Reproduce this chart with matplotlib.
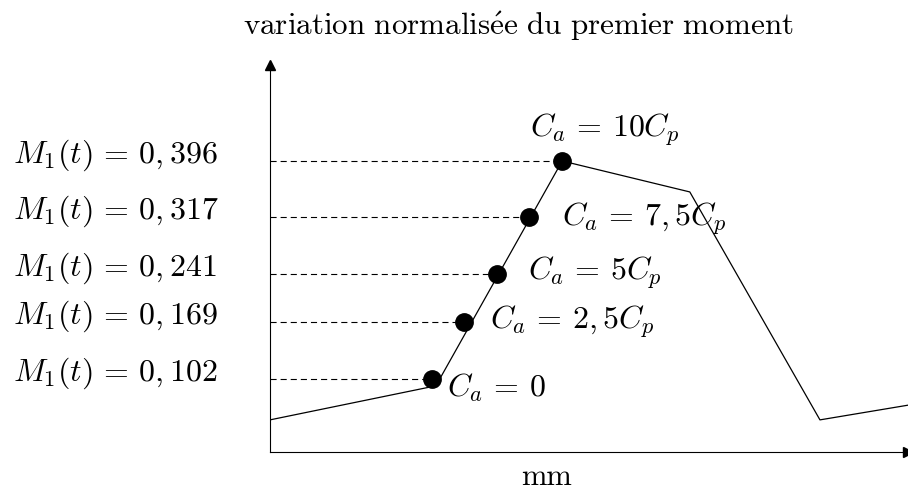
#!/usr/bin/python3
# Initialization
import numpy as np
import matplotlib
matplotlib.use('Agg')
import matplotlib.pyplot as plt
# ------------------------------------------------------------------

plt.rcParams['mathtext.fontset'] = 'cm'
plt.rcParams['font.family'] = ['cmr10', 'DejaVu Serif']
plt.rcParams['axes.formatter.use_mathtext'] = True

# ------------------------------------------------------------------
# Data (schematic units, x axis 0..10, y axis 0..1)
curve_x = [0.0, 2.60, 4.58, 6.58, 8.62, 10.0]
curve_y = [0.083, 0.171, 0.752, 0.672, 0.083, 0.121]

dot_x = [2.54, 3.04, 3.56, 4.06, 4.58]
dot_y = [0.189, 0.335, 0.460, 0.606, 0.752]

m1_values = ['0,102', '0,169', '0,241', '0,317', '0,396']
ca_labels = [r'$C_a\,=\,0$', r'$C_a\,=\,2,5C_p$', r'$C_a\,=\,5C_p$',
             r'$C_a\,=\,7,5C_p$', r'$C_a\,=\,10C_p$']
# text offsets (pixels) of the C_a labels from their dots
ca_offsets = [(15, -9), (26, 0), (31, 1), (33, -1), (-32, 31)]
# ------------------------------------------------------------------

fig = plt.figure(figsize=(9.08, 4.93), dpi=100)
ax = fig.add_axes([270/908, 41/493, 638/908, 387/493])
ax.set_xlim(0, 10)
ax.set_ylim(0, 1)
ax.spines['top'].set_visible(False)
ax.spines['right'].set_visible(False)
ax.set_xticks([])
ax.set_yticks([])

# arrow heads on the axes
ax.plot(0, 1, marker='^', color='k', markersize=7, clip_on=False)
ax.plot(10, 0, marker='>', color='k', markersize=7, clip_on=False)

ax.plot(curve_x, curve_y, 'k-', linewidth=0.9)

for i in range(len(dot_x)):
  ax.plot([0, dot_x[i]], [dot_y[i], dot_y[i]], 'k--', linewidth=0.8,
          dashes=(5.5, 3.6))
  ax.annotate(r'$M_1(t)\,=\,%s$' % m1_values[i], xy=(0, dot_y[i]),
              xytext=(-257, 6), textcoords='offset pixels',
              ha='left', va='center', fontsize=23)
  ax.annotate(ca_labels[i], xy=(dot_x[i], dot_y[i]),
              xytext=ca_offsets[i], textcoords='offset pixels',
              ha='left', va='center', fontsize=23)

ax.plot(dot_x, dot_y, 'ko', markersize=12.5, zorder=5)

fig.text(518/908, 1 - 26/493,
         r'$\mathrm{variation\ normalis\acute{e}e\ du\ premier\ moment}$',
         ha='center', va='center', fontsize=22.4)
fig.text(547/908, 1 - 477/493, 'mm', ha='center', va='center', fontsize=22)

plt.savefig('out.png', dpi=100)
# ------------------------------------------------------------------
